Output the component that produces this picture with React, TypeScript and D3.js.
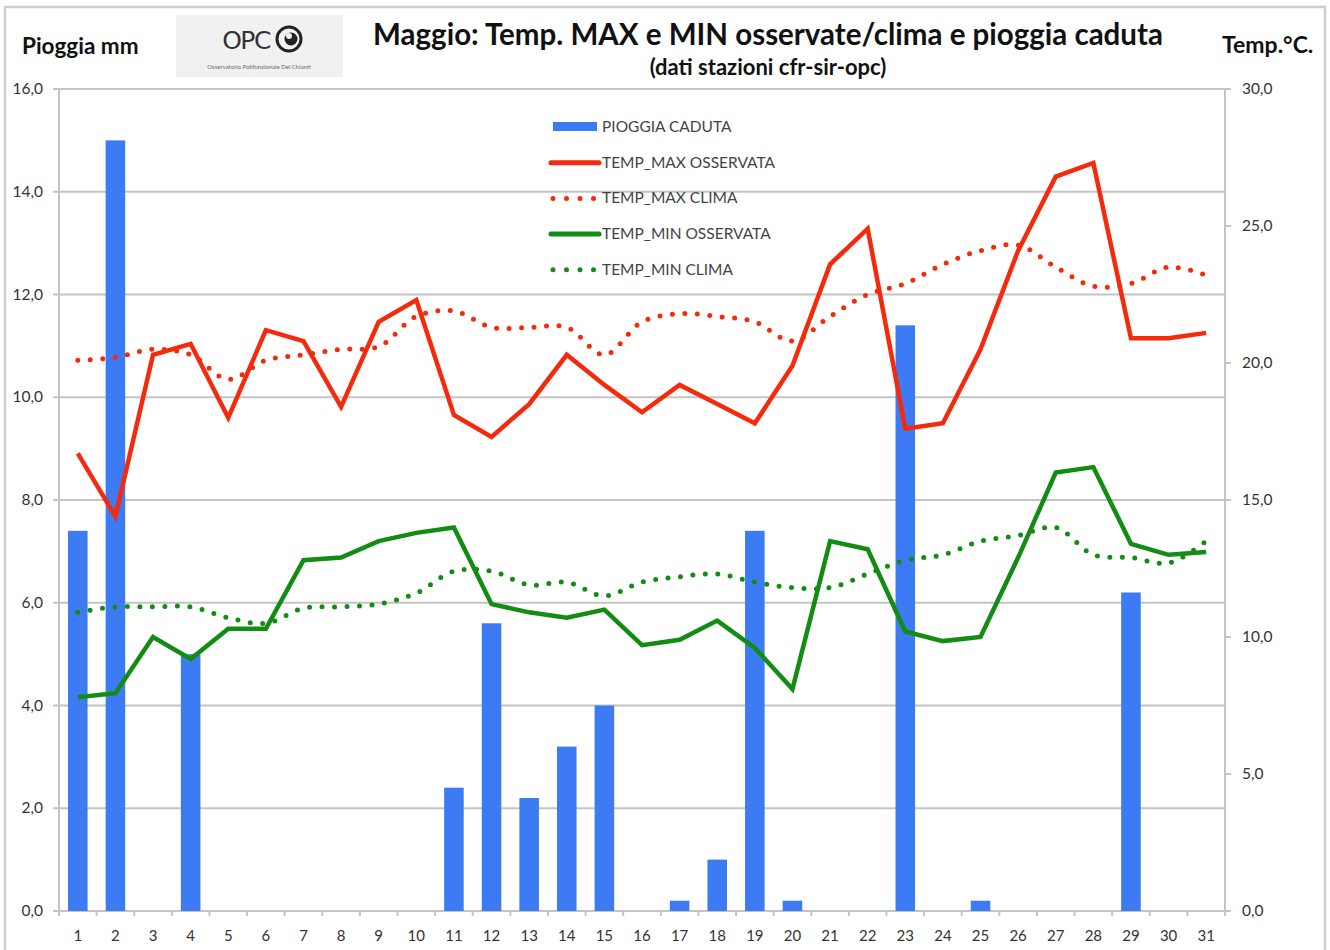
import React from "react";
import * as d3 from "d3";

const width = 1330;
const height = 950;
const margin = { top: 89, right: 105, bottom: 39, left: 59 };

const days = d3.range(1, 32).map(String);

const pioggia = [7.4, 15.0, 0, 5.0, 0, 0, 0, 0, 0, 0, 2.4, 5.6, 2.2, 3.2, 4.0, 0, 0.2, 1.0, 7.4, 0.2, 0, 0, 11.4, 0, 0.2, 0, 0, 0, 6.2, 0, 0];

const tMaxOss = [16.7, 14.4, 20.3, 20.7, 18.0, 21.2, 20.8, 18.4, 21.5, 22.3, 18.1, 17.3, 18.5, 20.3, 19.2, 18.2, 19.2, 18.5, 17.8, 19.9, 23.6, 24.9, 17.6, 17.8, 20.5, 24.1, 26.8, 27.3, 20.9, 20.9, 21.1];
const tMaxClima = [20.1, 20.2, 20.5, 20.3, 19.4, 20.1, 20.3, 20.5, 20.6, 21.7, 21.9, 21.3, 21.3, 21.3, 20.3, 21.5, 21.8, 21.7, 21.5, 20.8, 21.7, 22.5, 22.9, 23.6, 24.1, 24.3, 23.5, 22.8, 22.9, 23.5, 23.2];
const tMinOss = [7.8, 7.95, 10.0, 9.2, 10.3, 10.3, 12.8, 12.9, 13.5, 13.8, 14.0, 11.2, 10.9, 10.7, 11.0, 9.7, 9.9, 10.6, 9.6, 8.1, 13.5, 13.2, 10.2, 9.85, 10.0, 12.9, 16.0, 16.2, 13.4, 13.0, 13.1];
const tMinClima = [10.9, 11.1, 11.1, 11.1, 10.7, 10.5, 11.05, 11.1, 11.2, 11.6, 12.4, 12.4, 11.9, 12.0, 11.5, 12.0, 12.2, 12.3, 12.0, 11.8, 11.8, 12.3, 12.8, 13.0, 13.5, 13.7, 14.0, 13.0, 12.9, 12.7, 13.5];

const leftTicks = [0, 2, 4, 6, 8, 10, 12, 14, 16];
const rightTicks = [0, 5, 10, 15, 20, 25, 30];

const BLUE = "#3d7bf5";
const RED = "#f52a0c";
const GREEN = "#138c13";
const GRID = "#c4c4c4";
const FONT = "Lato, 'Open Sans', sans-serif";

const fmt = (v: number) => v.toFixed(1).replace(".", ",");

export default function App() {
  const x = d3
    .scaleBand<string>()
    .domain(days)
    .range([margin.left, width - margin.right])
    .padding(0);
  const yRain = d3.scaleLinear().domain([0, 16]).range([height - margin.bottom, margin.top]);
  const yTemp = d3.scaleLinear().domain([0, 30]).range([height - margin.bottom, margin.top]);

  const cx = (i: number) => (x(days[i]) as number) + x.bandwidth() / 2;
  const barW = x.bandwidth() * 0.52;

  const straight = d3
    .line<number>()
    .x((_, i) => cx(i))
    .y((d) => yTemp(d));
  const smooth = d3
    .line<number>()
    .x((_, i) => cx(i))
    .y((d) => yTemp(d))
    .curve(d3.curveCatmullRom.alpha(0.5));

  const x0 = margin.left;
  const x1 = width - margin.right;
  const yBot = height - margin.bottom;

  const legend = [
    { label: "PIOGGIA CADUTA", kind: "bar", color: BLUE },
    { label: "TEMP_MAX OSSERVATA", kind: "line", color: RED },
    { label: "TEMP_MAX CLIMA", kind: "dot", color: RED },
    { label: "TEMP_MIN OSSERVATA", kind: "line", color: GREEN },
    { label: "TEMP_MIN CLIMA", kind: "dot", color: GREEN },
  ];

  return (
    <svg
      width={width}
      height={height}
      style={{ position: "absolute", left: 0, top: 0, background: "#fff" }}
      fontFamily={FONT}
    >
      <rect x={5} y={7} width={1320} height={960} fill="#fff" stroke="#cfcfcf" strokeWidth={2.5} />

      {/* titles */}
      <text x={22} y={54} fontSize={22.5} fontWeight="bold" fill="#111">Pioggia mm</text>
      <text x={1222} y={53} fontSize={23} fontWeight="bold" fill="#111">Temp.°C.</text>
      <text x={768} y={45} fontSize={29.5} fontWeight="bold" textAnchor="middle" fill="#111">
        Maggio: Temp. MAX e MIN osservate/clima e pioggia caduta
      </text>
      <text x={768} y={75} fontSize={22} fontWeight="bold" textAnchor="middle" fill="#111">
        (dati stazioni cfr-sir-opc)
      </text>

      {/* logo */}
      <g>
        <rect x={176} y={15} width={167} height={62} fill="#f1f1f1" />
        <text x={246} y={49} fontSize={25} textAnchor="middle" fill="#333" fontFamily="'DejaVu Sans', sans-serif" letterSpacing={-1.5}>OPC</text>
        <circle cx={289} cy={39} r={12} fill="none" stroke="#222" strokeWidth={3} />
        <circle cx={291} cy={39} r={6.5} fill="#222" />
        <circle cx={289} cy={36} r={3} fill="#f1f1f1" />
        <text x={259} y={69} fontSize={6} textAnchor="middle" fill="#667">Osservatorio Polifunzionale Del Chianti</text>
      </g>

      {/* grid */}
      {leftTicks.map((t) => (
        <line key={"g" + t} x1={x0} x2={x1} y1={yRain(t)} y2={yRain(t)} stroke={GRID} strokeWidth={2} />
      ))}
      <line x1={x0} x2={x0} y1={margin.top} y2={yBot} stroke={GRID} strokeWidth={2} />
      <line x1={x1} x2={x1} y1={margin.top} y2={yBot} stroke={GRID} strokeWidth={2} />

      {/* left axis */}
      {leftTicks.map((t) => (
        <g key={"l" + t}>
          <line x1={x0 - 6} x2={x0} y1={yRain(t)} y2={yRain(t)} stroke={GRID} strokeWidth={2} />
          <text x={43} y={yRain(t) + 5} fontSize={15.5} textAnchor="end" fill="#333">{fmt(t)}</text>
        </g>
      ))}
      {/* right axis */}
      {rightTicks.map((t) => (
        <g key={"r" + t}>
          <line x1={x1} x2={x1 + 6} y1={yTemp(t)} y2={yTemp(t)} stroke={GRID} strokeWidth={2} />
          <text x={1242} y={yTemp(t) + 5} fontSize={15.5} fill="#333">{fmt(t)}</text>
        </g>
      ))}
      {/* x axis ticks */}
      {d3.range(0, 32).map((i) => {
        const px = x0 + i * x.bandwidth();
        return <line key={"xt" + i} x1={px} x2={px} y1={yBot} y2={yBot + 5} stroke={GRID} strokeWidth={2} />;
      })}
      {days.map((d, i) => (
        <text key={"xl" + d} x={cx(i)} y={941} fontSize={15} textAnchor="middle" fill="#333">{d}</text>
      ))}

      {/* bars */}
      {pioggia.map((v, i) =>
        v > 0 ? (
          <rect key={"b" + i} x={cx(i) - barW / 2} y={yRain(v)} width={barW} height={yBot - yRain(v)} fill={BLUE} />
        ) : null
      )}

      {/* lines */}
      <path d={smooth(tMaxClima) as string} fill="none" stroke={RED} strokeWidth={5} strokeLinecap="round" strokeDasharray="0 12.5" />
      <path d={smooth(tMinClima) as string} fill="none" stroke={GREEN} strokeWidth={5} strokeLinecap="round" strokeDasharray="0 12.5" />
      <path d={straight(tMaxOss) as string} fill="none" stroke={RED} strokeWidth={4.5} strokeLinejoin="miter" />
      <path d={straight(tMinOss) as string} fill="none" stroke={GREEN} strokeWidth={4.5} strokeLinejoin="miter" />

      {/* legend */}
      {legend.map((l, i) => {
        const ly = 127 + i * 35.7;
        return (
          <g key={l.label}>
            {l.kind === "bar" && <rect x={553} y={ly - 5} width={44} height={9} fill={l.color} />}
            {l.kind === "line" && (
              <line x1={551} x2={599} y1={ly} y2={ly} stroke={l.color} strokeWidth={5} strokeLinecap="round" />
            )}
            {l.kind === "dot" && (
              <line x1={553} x2={595} y1={ly} y2={ly} stroke={l.color} strokeWidth={5} strokeLinecap="round" strokeDasharray="0 13.5" />
            )}
            <text x={602} y={ly + 5} fontSize={15.5} fill="#444">{l.label}</text>
          </g>
        );
      })}
    </svg>
  );
}
